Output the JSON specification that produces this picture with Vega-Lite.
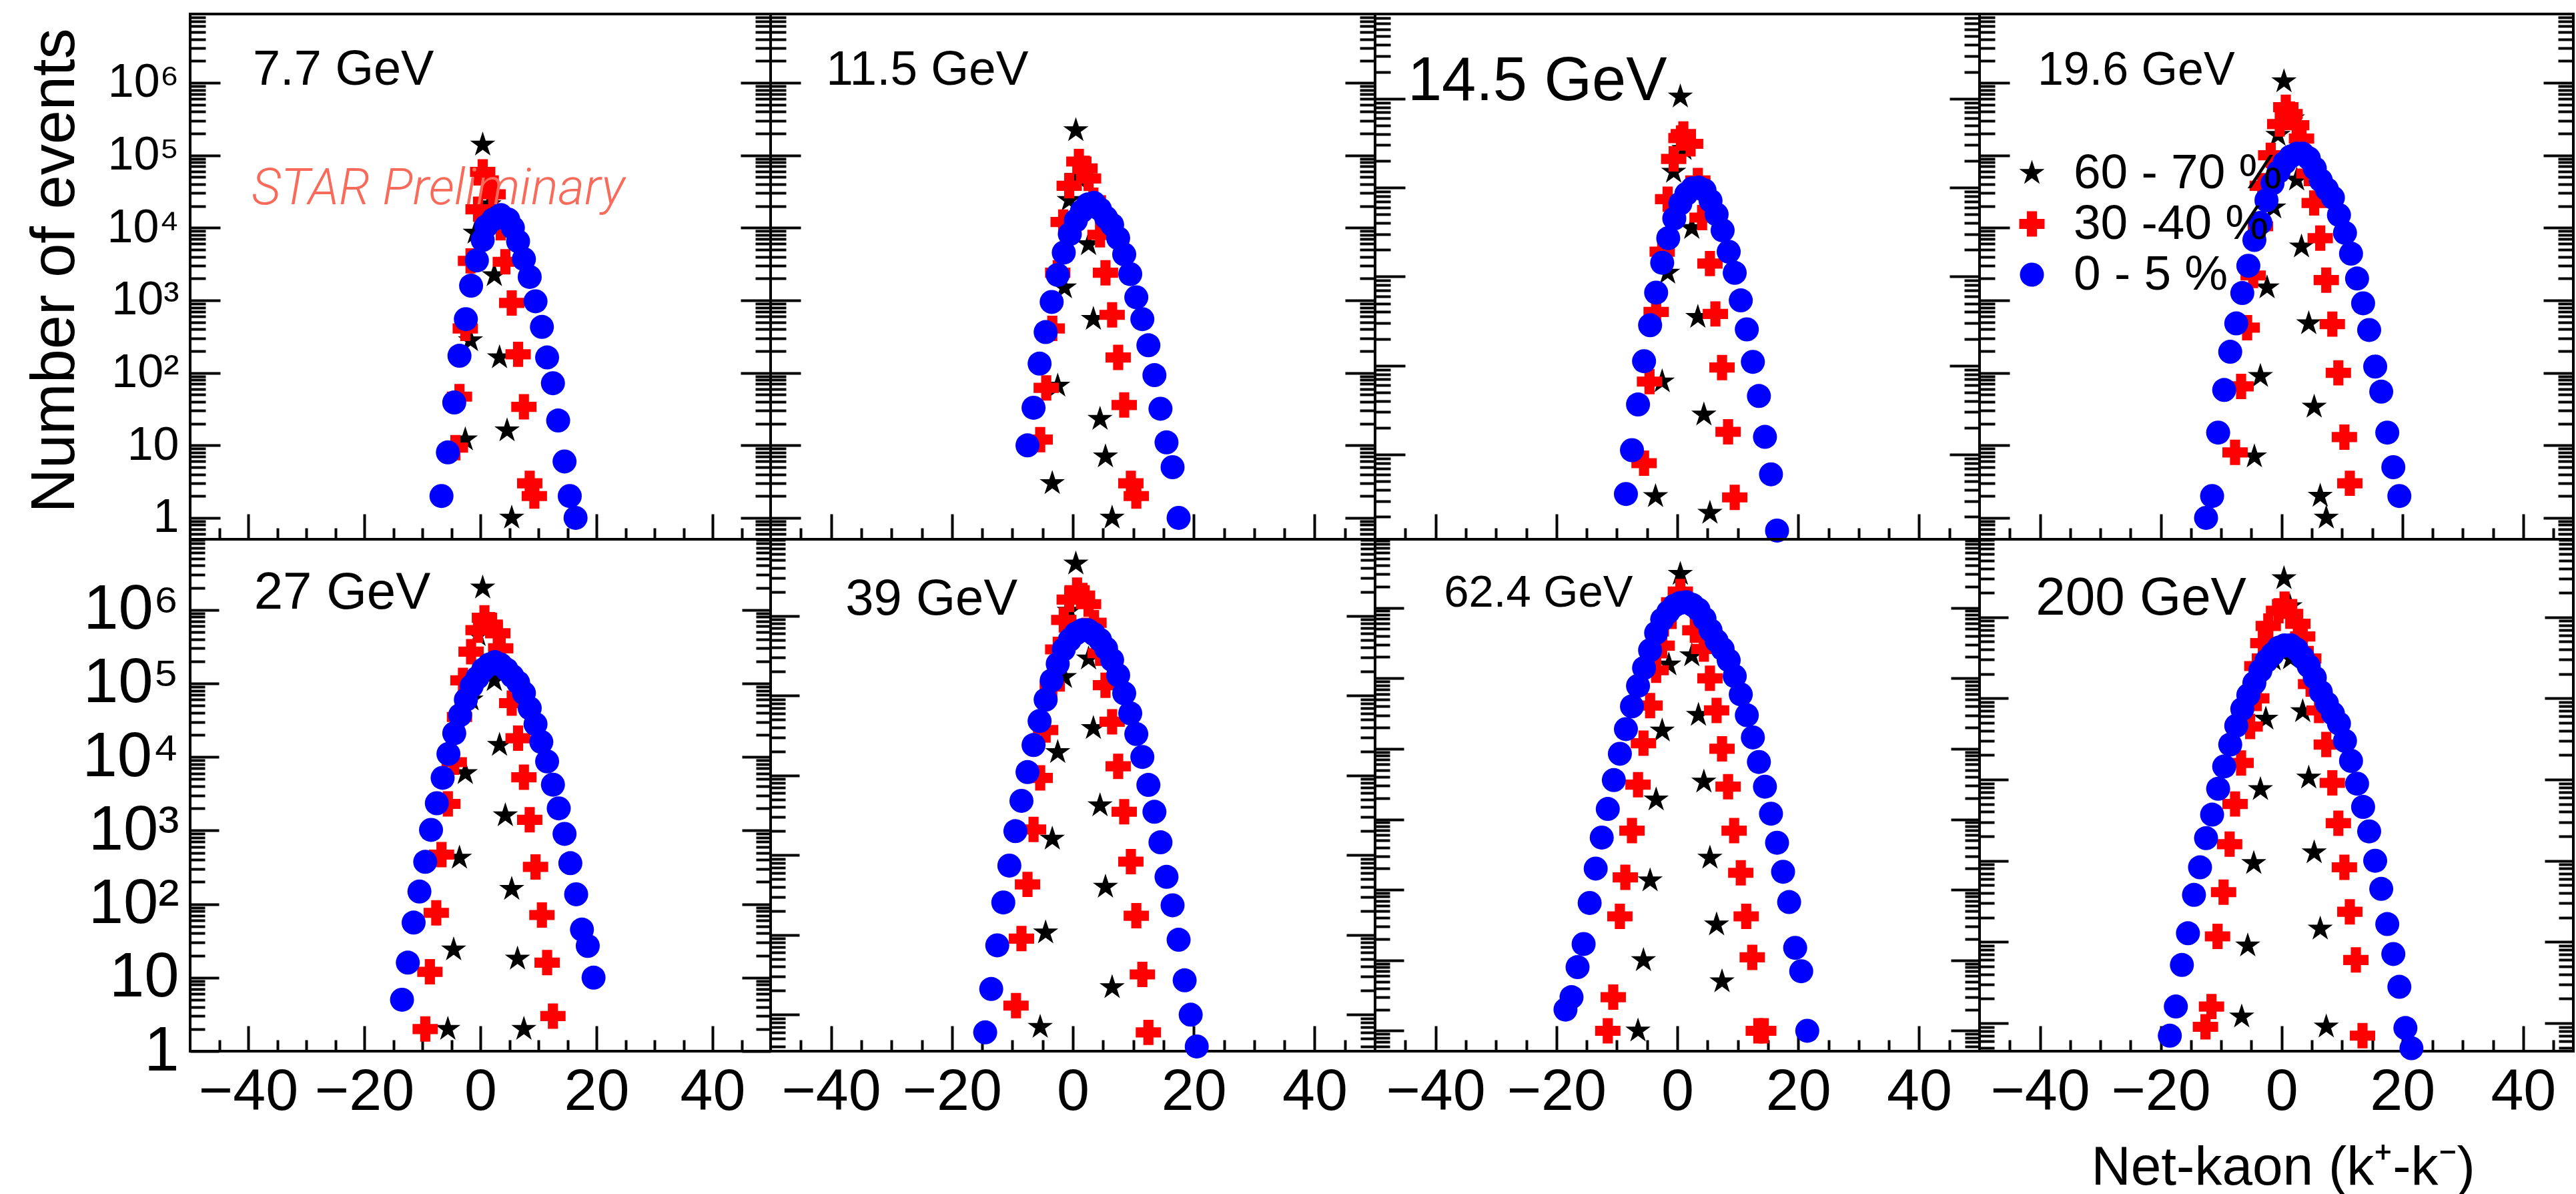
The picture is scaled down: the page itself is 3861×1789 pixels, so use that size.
{
"$schema": "https://vega.github.io/schema/vega-lite/v6.json",
"background": "white",
"padding": {"left": 33, "top": 19, "right": 0, "bottom": 0},
"columns": 4,
"spacing": 0,
"bounds": "flush",
"align": "each",
"resolve": {"scale": {"color": "independent", "shape": "independent", "size": "independent"}},
"config": {
  "view": {"stroke": "black", "strokeWidth": 4},
  "axis": {"grid": false, "domain": false, "tickColor": "black", "tickWidth": 4, "labelFont": "Liberation Sans", "labelColor": "black", "titleFont": "Liberation Sans", "titleColor": "black", "titleFontWeight": "normal", "labelOverlap": false, "labelBound": false, "labelFlush": false},
  "legend": {"padding": 0}
},
"datasets": {"pts": [
{"e":"7.7","c":"60 - 70 %","x":0.4,"y":140000},{"e":"7.7","c":"60 - 70 %","x":1.5,"y":21000},{"e":"7.7","c":"60 - 70 %","x":-0.9,"y":8500},{"e":"7.7","c":"60 - 70 %","x":2.4,"y":2200},{"e":"7.7","c":"60 - 70 %","x":-1.7,"y":280},{"e":"7.7","c":"60 - 70 %","x":3.3,"y":163},{"e":"7.7","c":"60 - 70 %","x":-2.6,"y":12},{"e":"7.7","c":"60 - 70 %","x":4.6,"y":16},{"e":"7.7","c":"60 - 70 %","x":5.4,"y":1},
{"e":"7.7","c":"30 -40 %","x":0.4,"y":59000},{"e":"7.7","c":"30 -40 %","x":1.0,"y":45000},{"e":"7.7","c":"30 -40 %","x":2.2,"y":29000},{"e":"7.7","c":"30 -40 %","x":-0.4,"y":18000},{"e":"7.7","c":"30 -40 %","x":3.5,"y":10000},{"e":"7.7","c":"30 -40 %","x":-1.7,"y":3500},{"e":"7.7","c":"30 -40 %","x":4.3,"y":3400},{"e":"7.7","c":"30 -40 %","x":5.4,"y":920},{"e":"7.7","c":"30 -40 %","x":-2.6,"y":410},{"e":"7.7","c":"30 -40 %","x":6.5,"y":180},{"e":"7.7","c":"30 -40 %","x":-3.6,"y":47},{"e":"7.7","c":"30 -40 %","x":7.5,"y":34},{"e":"7.7","c":"30 -40 %","x":-4.3,"y":9.3},{"e":"7.7","c":"30 -40 %","x":8.5,"y":3},{"e":"7.7","c":"30 -40 %","x":9.3,"y":2},
{"e":"7.7","c":"0 - 5 %","x":-6.7,"y":2},{"e":"7.7","c":"0 - 5 %","x":-5.6,"y":8},{"e":"7.7","c":"0 - 5 %","x":-4.5,"y":39},{"e":"7.7","c":"0 - 5 %","x":-3.6,"y":172},{"e":"7.7","c":"0 - 5 %","x":-2.5,"y":550},{"e":"7.7","c":"0 - 5 %","x":-1.6,"y":1590},{"e":"7.7","c":"0 - 5 %","x":-0.6,"y":3550},{"e":"7.7","c":"0 - 5 %","x":0.4,"y":6800},{"e":"7.7","c":"0 - 5 %","x":1.0,"y":10500},{"e":"7.7","c":"0 - 5 %","x":2.2,"y":13000},{"e":"7.7","c":"0 - 5 %","x":3.5,"y":15000},{"e":"7.7","c":"0 - 5 %","x":4.8,"y":13000},{"e":"7.7","c":"0 - 5 %","x":5.6,"y":10000},{"e":"7.7","c":"0 - 5 %","x":6.5,"y":6500},{"e":"7.7","c":"0 - 5 %","x":7.5,"y":3700},{"e":"7.7","c":"0 - 5 %","x":8.5,"y":2100},{"e":"7.7","c":"0 - 5 %","x":9.5,"y":970},{"e":"7.7","c":"0 - 5 %","x":10.6,"y":430},{"e":"7.7","c":"0 - 5 %","x":11.5,"y":163},{"e":"7.7","c":"0 - 5 %","x":12.5,"y":72},{"e":"7.7","c":"0 - 5 %","x":13.4,"y":22},{"e":"7.7","c":"0 - 5 %","x":14.5,"y":6},{"e":"7.7","c":"0 - 5 %","x":15.4,"y":2},{"e":"7.7","c":"0 - 5 %","x":16.4,"y":1},

{"e":"11.5","c":"60 - 70 %","x":0.5,"y":220000},{"e":"11.5","c":"60 - 70 %","x":0.7,"y":50000},{"e":"11.5","c":"60 - 70 %","x":-0.6,"y":24000},{"e":"11.5","c":"60 - 70 %","x":2.6,"y":5900},{"e":"11.5","c":"60 - 70 %","x":-1.4,"y":1500},{"e":"11.5","c":"60 - 70 %","x":3.4,"y":550},{"e":"11.5","c":"60 - 70 %","x":-2.5,"y":66},{"e":"11.5","c":"60 - 70 %","x":4.5,"y":23},{"e":"11.5","c":"60 - 70 %","x":5.4,"y":7},{"e":"11.5","c":"60 - 70 %","x":-3.4,"y":3},{"e":"11.5","c":"60 - 70 %","x":6.5,"y":1},
{"e":"11.5","c":"30 -40 %","x":1.0,"y":82000},{"e":"11.5","c":"30 -40 %","x":2.0,"y":66000},{"e":"11.5","c":"30 -40 %","x":2.6,"y":48000},{"e":"11.5","c":"30 -40 %","x":-0.6,"y":38000},{"e":"11.5","c":"30 -40 %","x":3.4,"y":24000},{"e":"11.5","c":"30 -40 %","x":-1.6,"y":12000},{"e":"11.5","c":"30 -40 %","x":4.5,"y":8000},{"e":"11.5","c":"30 -40 %","x":-2.5,"y":2400},{"e":"11.5","c":"30 -40 %","x":5.4,"y":2400},{"e":"11.5","c":"30 -40 %","x":6.5,"y":630},{"e":"11.5","c":"30 -40 %","x":-3.4,"y":410},{"e":"11.5","c":"30 -40 %","x":7.5,"y":163},{"e":"11.5","c":"30 -40 %","x":-4.4,"y":62},{"e":"11.5","c":"30 -40 %","x":8.5,"y":36},{"e":"11.5","c":"30 -40 %","x":-5.4,"y":12},{"e":"11.5","c":"30 -40 %","x":9.6,"y":3},{"e":"11.5","c":"30 -40 %","x":10.5,"y":2},
{"e":"11.5","c":"0 - 5 %","x":-7.5,"y":10},{"e":"11.5","c":"0 - 5 %","x":-6.5,"y":33},{"e":"11.5","c":"0 - 5 %","x":-5.5,"y":134},{"e":"11.5","c":"0 - 5 %","x":-4.5,"y":365},{"e":"11.5","c":"0 - 5 %","x":-3.5,"y":950},{"e":"11.5","c":"0 - 5 %","x":-2.5,"y":2240},{"e":"11.5","c":"0 - 5 %","x":-1.5,"y":4550},{"e":"11.5","c":"0 - 5 %","x":-0.5,"y":8200},{"e":"11.5","c":"0 - 5 %","x":0.5,"y":12600},{"e":"11.5","c":"0 - 5 %","x":1.5,"y":17000},{"e":"11.5","c":"0 - 5 %","x":2.5,"y":21000},{"e":"11.5","c":"0 - 5 %","x":3.5,"y":22000},{"e":"11.5","c":"0 - 5 %","x":4.5,"y":18000},{"e":"11.5","c":"0 - 5 %","x":5.5,"y":13800},{"e":"11.5","c":"0 - 5 %","x":6.5,"y":11000},{"e":"11.5","c":"0 - 5 %","x":7.5,"y":7200},{"e":"11.5","c":"0 - 5 %","x":8.5,"y":4300},{"e":"11.5","c":"0 - 5 %","x":9.5,"y":2300},{"e":"11.5","c":"0 - 5 %","x":10.5,"y":1100},{"e":"11.5","c":"0 - 5 %","x":11.5,"y":550},{"e":"11.5","c":"0 - 5 %","x":12.5,"y":240},{"e":"11.5","c":"0 - 5 %","x":13.5,"y":93},{"e":"11.5","c":"0 - 5 %","x":14.5,"y":32},{"e":"11.5","c":"0 - 5 %","x":15.5,"y":11},{"e":"11.5","c":"0 - 5 %","x":16.5,"y":5},{"e":"11.5","c":"0 - 5 %","x":17.5,"y":1},

{"e":"14.5","c":"60 - 70 %","x":0.5,"y":1050000},{"e":"14.5","c":"60 - 70 %","x":1.1,"y":270000},{"e":"14.5","c":"60 - 70 %","x":-0.6,"y":150000},{"e":"14.5","c":"60 - 70 %","x":2.4,"y":35000},{"e":"14.5","c":"60 - 70 %","x":-1.6,"y":11000},{"e":"14.5","c":"60 - 70 %","x":3.4,"y":3500},{"e":"14.5","c":"60 - 70 %","x":-2.5,"y":660},{"e":"14.5","c":"60 - 70 %","x":4.4,"y":280},{"e":"14.5","c":"60 - 70 %","x":-3.6,"y":34},{"e":"14.5","c":"60 - 70 %","x":5.4,"y":22},
{"e":"14.5","c":"30 -40 %","x":1.0,"y":400000},{"e":"14.5","c":"30 -40 %","x":0.6,"y":360000},{"e":"14.5","c":"30 -40 %","x":2.2,"y":310000},{"e":"14.5","c":"30 -40 %","x":-0.6,"y":210000},{"e":"14.5","c":"30 -40 %","x":3.4,"y":120000},{"e":"14.5","c":"30 -40 %","x":-1.6,"y":74000},{"e":"14.5","c":"30 -40 %","x":4.1,"y":46000},{"e":"14.5","c":"30 -40 %","x":-2.5,"y":19000},{"e":"14.5","c":"30 -40 %","x":5.4,"y":14000},{"e":"14.5","c":"30 -40 %","x":-3.5,"y":4000},{"e":"14.5","c":"30 -40 %","x":6.3,"y":3800},{"e":"14.5","c":"30 -40 %","x":-4.6,"y":660},{"e":"14.5","c":"30 -40 %","x":7.4,"y":950},{"e":"14.5","c":"30 -40 %","x":-5.5,"y":80},{"e":"14.5","c":"30 -40 %","x":8.4,"y":180},{"e":"14.5","c":"30 -40 %","x":9.5,"y":33},
{"e":"14.5","c":"0 - 5 %","x":-8.5,"y":36},{"e":"14.5","c":"0 - 5 %","x":-7.5,"y":112},{"e":"14.5","c":"0 - 5 %","x":-6.5,"y":365},{"e":"14.5","c":"0 - 5 %","x":-5.5,"y":1120},{"e":"14.5","c":"0 - 5 %","x":-4.5,"y":2840},{"e":"14.5","c":"0 - 5 %","x":-3.5,"y":6600},{"e":"14.5","c":"0 - 5 %","x":-2.5,"y":14300},{"e":"14.5","c":"0 - 5 %","x":-1.5,"y":27000},{"e":"14.5","c":"0 - 5 %","x":-0.5,"y":45000},{"e":"14.5","c":"0 - 5 %","x":0.5,"y":66000},{"e":"14.5","c":"0 - 5 %","x":1.5,"y":85000},{"e":"14.5","c":"0 - 5 %","x":2.5,"y":98000},{"e":"14.5","c":"0 - 5 %","x":3.5,"y":100000},{"e":"14.5","c":"0 - 5 %","x":4.5,"y":93000},{"e":"14.5","c":"0 - 5 %","x":5.5,"y":71000},{"e":"14.5","c":"0 - 5 %","x":6.5,"y":50000},{"e":"14.5","c":"0 - 5 %","x":7.5,"y":33000},{"e":"14.5","c":"0 - 5 %","x":8.5,"y":19000},{"e":"14.5","c":"0 - 5 %","x":9.5,"y":11000},{"e":"14.5","c":"0 - 5 %","x":10.5,"y":5400},{"e":"14.5","c":"0 - 5 %","x":11.5,"y":2550},{"e":"14.5","c":"0 - 5 %","x":12.5,"y":1100},{"e":"14.5","c":"0 - 5 %","x":13.5,"y":455},{"e":"14.5","c":"0 - 5 %","x":14.5,"y":158},{"e":"14.5","c":"0 - 5 %","x":15.5,"y":60},{"e":"14.5","c":"0 - 5 %","x":16.5,"y":14},

{"e":"19.6","c":"60 - 70 %","x":0.4,"y":1040000},{"e":"19.6","c":"60 - 70 %","x":-0.6,"y":190000},{"e":"19.6","c":"60 - 70 %","x":1.8,"y":320000},{"e":"19.6","c":"60 - 70 %","x":2.5,"y":46000},{"e":"19.6","c":"60 - 70 %","x":-1.3,"y":19000},{"e":"19.6","c":"60 - 70 %","x":3.3,"y":5500},{"e":"19.6","c":"60 - 70 %","x":-2.4,"y":1500},{"e":"19.6","c":"60 - 70 %","x":4.5,"y":480},{"e":"19.6","c":"60 - 70 %","x":-3.5,"y":90},{"e":"19.6","c":"60 - 70 %","x":5.4,"y":34},{"e":"19.6","c":"60 - 70 %","x":-4.5,"y":7},{"e":"19.6","c":"60 - 70 %","x":6.4,"y":2},{"e":"19.6","c":"60 - 70 %","x":7.4,"y":1},
{"e":"19.6","c":"30 -40 %","x":0.7,"y":460000},{"e":"19.6","c":"30 -40 %","x":1.4,"y":370000},{"e":"19.6","c":"30 -40 %","x":-0.3,"y":270000},{"e":"19.6","c":"30 -40 %","x":2.5,"y":260000},{"e":"19.6","c":"30 -40 %","x":3.3,"y":170000},{"e":"19.6","c":"30 -40 %","x":-1.8,"y":100000},{"e":"19.6","c":"30 -40 %","x":4.5,"y":56000},{"e":"19.6","c":"30 -40 %","x":-3.2,"y":38000},{"e":"19.6","c":"30 -40 %","x":5.4,"y":22000},{"e":"19.6","c":"30 -40 %","x":-3.5,"y":10500},{"e":"19.6","c":"30 -40 %","x":6.4,"y":7200},{"e":"19.6","c":"30 -40 %","x":-4.7,"y":2200},{"e":"19.6","c":"30 -40 %","x":7.4,"y":1900},{"e":"19.6","c":"30 -40 %","x":-5.7,"y":420},{"e":"19.6","c":"30 -40 %","x":8.4,"y":470},{"e":"19.6","c":"30 -40 %","x":-6.7,"y":65},{"e":"19.6","c":"30 -40 %","x":9.4,"y":100},{"e":"19.6","c":"30 -40 %","x":-7.7,"y":8},{"e":"19.6","c":"30 -40 %","x":10.4,"y":13},{"e":"19.6","c":"30 -40 %","x":11.3,"y":3},
{"e":"19.6","c":"0 - 5 %","x":-12.5,"y":1},{"e":"19.6","c":"0 - 5 %","x":-11.5,"y":2},{"e":"19.6","c":"0 - 5 %","x":-10.5,"y":15},{"e":"19.6","c":"0 - 5 %","x":-9.5,"y":58},{"e":"19.6","c":"0 - 5 %","x":-8.5,"y":195},{"e":"19.6","c":"0 - 5 %","x":-7.5,"y":480},{"e":"19.6","c":"0 - 5 %","x":-6.5,"y":1260},{"e":"19.6","c":"0 - 5 %","x":-5.5,"y":3000},{"e":"19.6","c":"0 - 5 %","x":-4.5,"y":6800},{"e":"19.6","c":"0 - 5 %","x":-3.5,"y":11700},{"e":"19.6","c":"0 - 5 %","x":-2.5,"y":24000},{"e":"19.6","c":"0 - 5 %","x":-1.5,"y":41000},{"e":"19.6","c":"0 - 5 %","x":-0.5,"y":59000},{"e":"19.6","c":"0 - 5 %","x":0.5,"y":79000},{"e":"19.6","c":"0 - 5 %","x":1.5,"y":96000},{"e":"19.6","c":"0 - 5 %","x":2.5,"y":105000},{"e":"19.6","c":"0 - 5 %","x":3.5,"y":105000},{"e":"19.6","c":"0 - 5 %","x":4.5,"y":91000},{"e":"19.6","c":"0 - 5 %","x":5.5,"y":66000},{"e":"19.6","c":"0 - 5 %","x":6.5,"y":45000},{"e":"19.6","c":"0 - 5 %","x":7.5,"y":34000},{"e":"19.6","c":"0 - 5 %","x":8.5,"y":26000},{"e":"19.6","c":"0 - 5 %","x":9.5,"y":15000},{"e":"19.6","c":"0 - 5 %","x":10.5,"y":8500},{"e":"19.6","c":"0 - 5 %","x":11.5,"y":4400},{"e":"19.6","c":"0 - 5 %","x":12.5,"y":2000},{"e":"19.6","c":"0 - 5 %","x":13.5,"y":910},{"e":"19.6","c":"0 - 5 %","x":14.5,"y":390},{"e":"19.6","c":"0 - 5 %","x":15.5,"y":122},{"e":"19.6","c":"0 - 5 %","x":16.5,"y":55},{"e":"19.6","c":"0 - 5 %","x":17.5,"y":15},{"e":"19.6","c":"0 - 5 %","x":18.5,"y":5},{"e":"19.6","c":"0 - 5 %","x":19.5,"y":2},

{"e":"27","c":"60 - 70 %","x":0.4,"y":2000000},{"e":"27","c":"60 - 70 %","x":-0.4,"y":450000},{"e":"27","c":"60 - 70 %","x":2.4,"y":110000},{"e":"27","c":"60 - 70 %","x":-1.6,"y":60000},{"e":"27","c":"60 - 70 %","x":3.3,"y":14500},{"e":"27","c":"60 - 70 %","x":-2.6,"y":6000},{"e":"27","c":"60 - 70 %","x":4.3,"y":1600},{"e":"27","c":"60 - 70 %","x":-3.6,"y":425},{"e":"27","c":"60 - 70 %","x":5.4,"y":160},{"e":"27","c":"60 - 70 %","x":-4.6,"y":24},{"e":"27","c":"60 - 70 %","x":6.4,"y":18},{"e":"27","c":"60 - 70 %","x":-5.6,"y":2},{"e":"27","c":"60 - 70 %","x":7.5,"y":2},
{"e":"27","c":"30 -40 %","x":0.7,"y":780000},{"e":"27","c":"30 -40 %","x":1.7,"y":630000},{"e":"27","c":"30 -40 %","x":-0.4,"y":530000},{"e":"27","c":"30 -40 %","x":3.0,"y":480000},{"e":"27","c":"30 -40 %","x":-1.6,"y":270000},{"e":"27","c":"30 -40 %","x":3.5,"y":300000},{"e":"27","c":"30 -40 %","x":-3.0,"y":110000},{"e":"27","c":"30 -40 %","x":5.4,"y":54000},{"e":"27","c":"30 -40 %","x":-3.6,"y":35000},{"e":"27","c":"30 -40 %","x":6.5,"y":18000},{"e":"27","c":"30 -40 %","x":-4.5,"y":8500},{"e":"27","c":"30 -40 %","x":7.5,"y":5300},{"e":"27","c":"30 -40 %","x":-5.6,"y":2300},{"e":"27","c":"30 -40 %","x":8.5,"y":1400},{"e":"27","c":"30 -40 %","x":-6.7,"y":470},{"e":"27","c":"30 -40 %","x":9.5,"y":320},{"e":"27","c":"30 -40 %","x":-7.6,"y":76},{"e":"27","c":"30 -40 %","x":10.6,"y":71},{"e":"27","c":"30 -40 %","x":-8.7,"y":12},{"e":"27","c":"30 -40 %","x":11.5,"y":16},{"e":"27","c":"30 -40 %","x":-9.5,"y":2},{"e":"27","c":"30 -40 %","x":12.5,"y":3},
{"e":"27","c":"0 - 5 %","x":-13.5,"y":5},{"e":"27","c":"0 - 5 %","x":-12.5,"y":16},{"e":"27","c":"0 - 5 %","x":-11.5,"y":56},{"e":"27","c":"0 - 5 %","x":-10.5,"y":148},{"e":"27","c":"0 - 5 %","x":-9.5,"y":375},{"e":"27","c":"0 - 5 %","x":-8.5,"y":1020},{"e":"27","c":"0 - 5 %","x":-7.5,"y":2350},{"e":"27","c":"0 - 5 %","x":-6.5,"y":5200},{"e":"27","c":"0 - 5 %","x":-5.5,"y":11000},{"e":"27","c":"0 - 5 %","x":-4.5,"y":21000},{"e":"27","c":"0 - 5 %","x":-3.5,"y":37000},{"e":"27","c":"0 - 5 %","x":-2.5,"y":60000},{"e":"27","c":"0 - 5 %","x":-1.5,"y":92000},{"e":"27","c":"0 - 5 %","x":-0.5,"y":120000},{"e":"27","c":"0 - 5 %","x":0.5,"y":155000},{"e":"27","c":"0 - 5 %","x":1.5,"y":180000},{"e":"27","c":"0 - 5 %","x":2.5,"y":195000},{"e":"27","c":"0 - 5 %","x":3.5,"y":180000},{"e":"27","c":"0 - 5 %","x":4.5,"y":155000},{"e":"27","c":"0 - 5 %","x":5.5,"y":126000},{"e":"27","c":"0 - 5 %","x":6.5,"y":103000},{"e":"27","c":"0 - 5 %","x":7.5,"y":74000},{"e":"27","c":"0 - 5 %","x":8.5,"y":46000},{"e":"27","c":"0 - 5 %","x":9.5,"y":28000},{"e":"27","c":"0 - 5 %","x":10.5,"y":16000},{"e":"27","c":"0 - 5 %","x":11.5,"y":8700},{"e":"27","c":"0 - 5 %","x":12.5,"y":4200},{"e":"27","c":"0 - 5 %","x":13.5,"y":2000},{"e":"27","c":"0 - 5 %","x":14.5,"y":900},{"e":"27","c":"0 - 5 %","x":15.5,"y":360},{"e":"27","c":"0 - 5 %","x":16.5,"y":136},{"e":"27","c":"0 - 5 %","x":17.5,"y":45},{"e":"27","c":"0 - 5 %","x":18.5,"y":27},{"e":"27","c":"0 - 5 %","x":19.5,"y":10},

{"e":"39","c":"60 - 70 %","x":0.5,"y":4500000},{"e":"39","c":"60 - 70 %","x":-0.6,"y":1150000},{"e":"39","c":"60 - 70 %","x":2.6,"y":290000},{"e":"39","c":"60 - 70 %","x":-1.4,"y":170000},{"e":"39","c":"60 - 70 %","x":3.4,"y":39000},{"e":"39","c":"60 - 70 %","x":-2.5,"y":19500},{"e":"39","c":"60 - 70 %","x":4.5,"y":4200},{"e":"39","c":"60 - 70 %","x":-3.4,"y":1600},{"e":"39","c":"60 - 70 %","x":5.4,"y":400},{"e":"39","c":"60 - 70 %","x":-4.5,"y":107},{"e":"39","c":"60 - 70 %","x":6.5,"y":22},{"e":"39","c":"60 - 70 %","x":-5.4,"y":7},
{"e":"39","c":"30 -40 %","x":0.7,"y":2100000},{"e":"39","c":"30 -40 %","x":1.6,"y":1800000},{"e":"39","c":"30 -40 %","x":-0.6,"y":1600000},{"e":"39","c":"30 -40 %","x":2.6,"y":1400000},{"e":"39","c":"30 -40 %","x":-1.5,"y":890000},{"e":"39","c":"30 -40 %","x":3.5,"y":820000},{"e":"39","c":"30 -40 %","x":-2.5,"y":380000},{"e":"39","c":"30 -40 %","x":4.5,"y":340000},{"e":"39","c":"30 -40 %","x":-3.4,"y":130000},{"e":"39","c":"30 -40 %","x":5.4,"y":135000},{"e":"39","c":"30 -40 %","x":-4.5,"y":37000},{"e":"39","c":"30 -40 %","x":6.5,"y":47000},{"e":"39","c":"30 -40 %","x":-5.4,"y":9300},{"e":"39","c":"30 -40 %","x":7.5,"y":13000},{"e":"39","c":"30 -40 %","x":-6.5,"y":2100},{"e":"39","c":"30 -40 %","x":8.5,"y":3500},{"e":"39","c":"30 -40 %","x":-7.5,"y":430},{"e":"39","c":"30 -40 %","x":9.6,"y":830},{"e":"39","c":"30 -40 %","x":-8.5,"y":90},{"e":"39","c":"30 -40 %","x":10.5,"y":174},{"e":"39","c":"30 -40 %","x":-9.4,"y":13},{"e":"39","c":"30 -40 %","x":11.5,"y":32},{"e":"39","c":"30 -40 %","x":12.5,"y":6},
{"e":"39","c":"0 - 5 %","x":-14.5,"y":6},{"e":"39","c":"0 - 5 %","x":-13.5,"y":21},{"e":"39","c":"0 - 5 %","x":-12.5,"y":74},{"e":"39","c":"0 - 5 %","x":-11.5,"y":255},{"e":"39","c":"0 - 5 %","x":-10.5,"y":740},{"e":"39","c":"0 - 5 %","x":-9.5,"y":2000},{"e":"39","c":"0 - 5 %","x":-8.5,"y":4800},{"e":"39","c":"0 - 5 %","x":-7.5,"y":11000},{"e":"39","c":"0 - 5 %","x":-6.5,"y":24000},{"e":"39","c":"0 - 5 %","x":-5.5,"y":48000},{"e":"39","c":"0 - 5 %","x":-4.5,"y":89000},{"e":"39","c":"0 - 5 %","x":-3.5,"y":155000},{"e":"39","c":"0 - 5 %","x":-2.5,"y":250000},{"e":"39","c":"0 - 5 %","x":-1.5,"y":380000},{"e":"39","c":"0 - 5 %","x":-0.5,"y":500000},{"e":"39","c":"0 - 5 %","x":0.5,"y":600000},{"e":"39","c":"0 - 5 %","x":1.5,"y":660000},{"e":"39","c":"0 - 5 %","x":2.5,"y":660000},{"e":"39","c":"0 - 5 %","x":3.5,"y":590000},{"e":"39","c":"0 - 5 %","x":4.5,"y":500000},{"e":"39","c":"0 - 5 %","x":5.5,"y":390000},{"e":"39","c":"0 - 5 %","x":6.5,"y":280000},{"e":"39","c":"0 - 5 %","x":7.5,"y":180000},{"e":"39","c":"0 - 5 %","x":8.5,"y":107000},{"e":"39","c":"0 - 5 %","x":9.5,"y":60000},{"e":"39","c":"0 - 5 %","x":10.5,"y":33000},{"e":"39","c":"0 - 5 %","x":11.5,"y":17000},{"e":"39","c":"0 - 5 %","x":12.5,"y":7600},{"e":"39","c":"0 - 5 %","x":13.5,"y":3500},{"e":"39","c":"0 - 5 %","x":14.5,"y":1450},{"e":"39","c":"0 - 5 %","x":15.5,"y":535},{"e":"39","c":"0 - 5 %","x":16.5,"y":235},{"e":"39","c":"0 - 5 %","x":17.5,"y":87},{"e":"39","c":"0 - 5 %","x":18.5,"y":27},{"e":"39","c":"0 - 5 %","x":19.5,"y":10},{"e":"39","c":"0 - 5 %","x":20.5,"y":4},

{"e":"62.4","c":"60 - 70 %","x":0.5,"y":3000000},{"e":"62.4","c":"60 - 70 %","x":-1.4,"y":156000},{"e":"62.4","c":"60 - 70 %","x":2.4,"y":210000},{"e":"62.4","c":"60 - 70 %","x":-2.5,"y":18000},{"e":"62.4","c":"60 - 70 %","x":3.5,"y":30000},{"e":"62.4","c":"60 - 70 %","x":-3.5,"y":1900},{"e":"62.4","c":"60 - 70 %","x":4.4,"y":3400},{"e":"62.4","c":"60 - 70 %","x":-4.5,"y":135},{"e":"62.4","c":"60 - 70 %","x":5.4,"y":284},{"e":"62.4","c":"60 - 70 %","x":-5.6,"y":10},{"e":"62.4","c":"60 - 70 %","x":6.5,"y":32},{"e":"62.4","c":"60 - 70 %","x":7.4,"y":5},{"e":"62.4","c":"60 - 70 %","x":-6.5,"y":1},
{"e":"62.4","c":"30 -40 %","x":0.5,"y":1700000},{"e":"62.4","c":"30 -40 %","x":-0.6,"y":1200000},{"e":"62.4","c":"30 -40 %","x":1.5,"y":1300000},{"e":"62.4","c":"30 -40 %","x":-2.2,"y":590000},{"e":"62.4","c":"30 -40 %","x":2.9,"y":480000},{"e":"62.4","c":"30 -40 %","x":-2.5,"y":290000},{"e":"62.4","c":"30 -40 %","x":4.4,"y":260000},{"e":"62.4","c":"30 -40 %","x":-3.5,"y":130000},{"e":"62.4","c":"30 -40 %","x":5.4,"y":100000},{"e":"62.4","c":"30 -40 %","x":-4.5,"y":41000},{"e":"62.4","c":"30 -40 %","x":6.5,"y":35000},{"e":"62.4","c":"30 -40 %","x":-5.6,"y":12000},{"e":"62.4","c":"30 -40 %","x":7.4,"y":10000},{"e":"62.4","c":"30 -40 %","x":-6.5,"y":3100},{"e":"62.4","c":"30 -40 %","x":8.4,"y":2900},{"e":"62.4","c":"30 -40 %","x":-7.5,"y":690},{"e":"62.4","c":"30 -40 %","x":9.4,"y":690},{"e":"62.4","c":"30 -40 %","x":-8.6,"y":150},{"e":"62.4","c":"30 -40 %","x":10.5,"y":174},{"e":"62.4","c":"30 -40 %","x":-9.5,"y":42},{"e":"62.4","c":"30 -40 %","x":11.4,"y":42},{"e":"62.4","c":"30 -40 %","x":12.4,"y":11},{"e":"62.4","c":"30 -40 %","x":-10.6,"y":3},{"e":"62.4","c":"30 -40 %","x":-11.5,"y":1},{"e":"62.4","c":"30 -40 %","x":13.4,"y":1},{"e":"62.4","c":"30 -40 %","x":14.3,"y":1},
{"e":"62.4","c":"0 - 5 %","x":-18.5,"y":2},{"e":"62.4","c":"0 - 5 %","x":-17.5,"y":3},{"e":"62.4","c":"0 - 5 %","x":-16.5,"y":8},{"e":"62.4","c":"0 - 5 %","x":-15.5,"y":17},{"e":"62.4","c":"0 - 5 %","x":-14.5,"y":65},{"e":"62.4","c":"0 - 5 %","x":-13.5,"y":200},{"e":"62.4","c":"0 - 5 %","x":-12.5,"y":550},{"e":"62.4","c":"0 - 5 %","x":-11.5,"y":1400},{"e":"62.4","c":"0 - 5 %","x":-10.5,"y":3600},{"e":"62.4","c":"0 - 5 %","x":-9.5,"y":8500},{"e":"62.4","c":"0 - 5 %","x":-8.5,"y":19000},{"e":"62.4","c":"0 - 5 %","x":-7.5,"y":40000},{"e":"62.4","c":"0 - 5 %","x":-6.5,"y":78000},{"e":"62.4","c":"0 - 5 %","x":-5.5,"y":140000},{"e":"62.4","c":"0 - 5 %","x":-4.5,"y":250000},{"e":"62.4","c":"0 - 5 %","x":-3.5,"y":440000},{"e":"62.4","c":"0 - 5 %","x":-2.5,"y":680000},{"e":"62.4","c":"0 - 5 %","x":-1.5,"y":870000},{"e":"62.4","c":"0 - 5 %","x":-0.5,"y":1070000},{"e":"62.4","c":"0 - 5 %","x":0.5,"y":1170000},{"e":"62.4","c":"0 - 5 %","x":1.5,"y":1200000},{"e":"62.4","c":"0 - 5 %","x":2.5,"y":1100000},{"e":"62.4","c":"0 - 5 %","x":3.5,"y":940000},{"e":"62.4","c":"0 - 5 %","x":4.5,"y":700000},{"e":"62.4","c":"0 - 5 %","x":5.5,"y":480000},{"e":"62.4","c":"0 - 5 %","x":6.5,"y":340000},{"e":"62.4","c":"0 - 5 %","x":7.5,"y":260000},{"e":"62.4","c":"0 - 5 %","x":8.5,"y":180000},{"e":"62.4","c":"0 - 5 %","x":9.5,"y":107000},{"e":"62.4","c":"0 - 5 %","x":10.5,"y":59000},{"e":"62.4","c":"0 - 5 %","x":11.5,"y":30000},{"e":"62.4","c":"0 - 5 %","x":12.5,"y":14500},{"e":"62.4","c":"0 - 5 %","x":13.5,"y":6500},{"e":"62.4","c":"0 - 5 %","x":14.5,"y":2900},{"e":"62.4","c":"0 - 5 %","x":15.5,"y":1200},{"e":"62.4","c":"0 - 5 %","x":16.5,"y":465},{"e":"62.4","c":"0 - 5 %","x":17.5,"y":180},{"e":"62.4","c":"0 - 5 %","x":18.5,"y":67},{"e":"62.4","c":"0 - 5 %","x":19.5,"y":15},{"e":"62.4","c":"0 - 5 %","x":20.5,"y":7},{"e":"62.4","c":"0 - 5 %","x":21.5,"y":1},

{"e":"200","c":"60 - 70 %","x":0.4,"y":3000000},{"e":"200","c":"60 - 70 %","x":1.4,"y":1360000},{"e":"200","c":"60 - 70 %","x":-1.4,"y":300000},{"e":"200","c":"60 - 70 %","x":1.5,"y":310000},{"e":"200","c":"60 - 70 %","x":-2.6,"y":56000},{"e":"200","c":"60 - 70 %","x":3.5,"y":69000},{"e":"200","c":"60 - 70 %","x":-3.5,"y":7600},{"e":"200","c":"60 - 70 %","x":4.5,"y":10500},{"e":"200","c":"60 - 70 %","x":-4.6,"y":930},{"e":"200","c":"60 - 70 %","x":5.4,"y":1260},{"e":"200","c":"60 - 70 %","x":-5.6,"y":90},{"e":"200","c":"60 - 70 %","x":6.4,"y":145},{"e":"200","c":"60 - 70 %","x":-6.6,"y":12},{"e":"200","c":"60 - 70 %","x":7.4,"y":9},
{"e":"200","c":"30 -40 %","x":0.5,"y":1450000},{"e":"200","c":"30 -40 %","x":-0.5,"y":1200000},{"e":"200","c":"30 -40 %","x":1.5,"y":1100000},{"e":"200","c":"30 -40 %","x":-2.2,"y":780000},{"e":"200","c":"30 -40 %","x":2.7,"y":830000},{"e":"200","c":"30 -40 %","x":-3.1,"y":480000},{"e":"200","c":"30 -40 %","x":3.5,"y":580000},{"e":"200","c":"30 -40 %","x":-4.1,"y":250000},{"e":"200","c":"30 -40 %","x":4.5,"y":310000},{"e":"200","c":"30 -40 %","x":4.8,"y":150000},{"e":"200","c":"30 -40 %","x":-4.1,"y":100000},{"e":"200","c":"30 -40 %","x":6.2,"y":71000},{"e":"200","c":"30 -40 %","x":-5.2,"y":45000},{"e":"200","c":"30 -40 %","x":7.4,"y":27000},{"e":"200","c":"30 -40 %","x":-6.7,"y":16000},{"e":"200","c":"30 -40 %","x":8.4,"y":9100},{"e":"200","c":"30 -40 %","x":-7.7,"y":5000},{"e":"200","c":"30 -40 %","x":9.4,"y":2900},{"e":"200","c":"30 -40 %","x":-8.6,"y":1600},{"e":"200","c":"30 -40 %","x":10.4,"y":830},{"e":"200","c":"30 -40 %","x":-9.6,"y":410},{"e":"200","c":"30 -40 %","x":11.3,"y":235},{"e":"200","c":"30 -40 %","x":-10.6,"y":117},{"e":"200","c":"30 -40 %","x":12.3,"y":60},{"e":"200","c":"30 -40 %","x":-11.6,"y":16},{"e":"200","c":"30 -40 %","x":-12.6,"y":9},{"e":"200","c":"30 -40 %","x":13.4,"y":7},
{"e":"200","c":"0 - 5 %","x":-18.5,"y":7},{"e":"200","c":"0 - 5 %","x":-17.5,"y":16},{"e":"200","c":"0 - 5 %","x":-16.5,"y":52},{"e":"200","c":"0 - 5 %","x":-15.5,"y":128},{"e":"200","c":"0 - 5 %","x":-14.5,"y":380},{"e":"200","c":"0 - 5 %","x":-13.5,"y":830},{"e":"200","c":"0 - 5 %","x":-12.5,"y":1900},{"e":"200","c":"0 - 5 %","x":-11.5,"y":3700},{"e":"200","c":"0 - 5 %","x":-10.5,"y":7700},{"e":"200","c":"0 - 5 %","x":-9.5,"y":14500},{"e":"200","c":"0 - 5 %","x":-8.5,"y":27000},{"e":"200","c":"0 - 5 %","x":-7.5,"y":46000},{"e":"200","c":"0 - 5 %","x":-6.5,"y":74000},{"e":"200","c":"0 - 5 %","x":-5.5,"y":110000},{"e":"200","c":"0 - 5 %","x":-4.5,"y":155000},{"e":"200","c":"0 - 5 %","x":-3.5,"y":220000},{"e":"200","c":"0 - 5 %","x":-2.5,"y":290000},{"e":"200","c":"0 - 5 %","x":-1.5,"y":350000},{"e":"200","c":"0 - 5 %","x":-0.5,"y":420000},{"e":"200","c":"0 - 5 %","x":0.5,"y":450000},{"e":"200","c":"0 - 5 %","x":1.5,"y":450000},{"e":"200","c":"0 - 5 %","x":2.5,"y":400000},{"e":"200","c":"0 - 5 %","x":3.5,"y":320000},{"e":"200","c":"0 - 5 %","x":4.5,"y":250000},{"e":"200","c":"0 - 5 %","x":5.5,"y":180000},{"e":"200","c":"0 - 5 %","x":6.5,"y":120000},{"e":"200","c":"0 - 5 %","x":7.5,"y":87000},{"e":"200","c":"0 - 5 %","x":8.5,"y":65000},{"e":"200","c":"0 - 5 %","x":9.5,"y":49000},{"e":"200","c":"0 - 5 %","x":10.5,"y":30000},{"e":"200","c":"0 - 5 %","x":11.5,"y":17000},{"e":"200","c":"0 - 5 %","x":12.5,"y":8900},{"e":"200","c":"0 - 5 %","x":13.5,"y":4600},{"e":"200","c":"0 - 5 %","x":14.5,"y":2300},{"e":"200","c":"0 - 5 %","x":15.5,"y":1000},{"e":"200","c":"0 - 5 %","x":16.5,"y":450},{"e":"200","c":"0 - 5 %","x":17.5,"y":166},{"e":"200","c":"0 - 5 %","x":18.5,"y":71},{"e":"200","c":"0 - 5 %","x":19.5,"y":28},{"e":"200","c":"0 - 5 %","x":20.5,"y":8.7},{"e":"200","c":"0 - 5 %","x":21.5,"y":4.9}
]},
"concat": [
{"width": 870, "height": 787, "data": {"name": "pts"}, "transform": [{"filter": "datum.e == '7.7'"}], "resolve": {"axis": {"x": "independent", "y": "independent"}},
 "layer": [
  {"mark": {"type": "point", "filled": true, "opacity": 1, "strokeWidth": 0},
   "encoding": {
    "x": {"field": "x", "type": "quantitative", "scale": {"domain": [-50, 50], "nice": false, "zero": false}, "axis": {"orient": "bottom", "values": [-45,-40,-35,-30,-25,-20,-15,-10,-5,0,5,10,15,20,25,30,35,40,45], "labels": false, "title": null, "tickSize": {"condition": {"test": "datum.value % 20 == 0", "value": -38}, "value": -17}}},
    "y": {"field": "y", "type": "quantitative", "scale": {"type": "log", "domain": [0.507, 8870000], "nice": false}, "axis": {"orient": "left", "values": [0.6,0.7,0.8,0.9,1,2,3,4,5,6,7,8,9,10,20,30,40,50,60,70,80,90,100,200,300,400,500,600,700,800,900,1000,2000,3000,4000,5000,6000,7000,8000,9000,10000,20000,30000,40000,50000,60000,70000,80000,90000,100000,200000,300000,400000,500000,600000,700000,800000,900000,1000000,2000000,3000000,4000000,5000000,6000000,7000000,8000000], "tickSize": {"condition": {"test": "abs(log(datum.value)/LN10 - round(log(datum.value)/LN10)) < 0.001", "value": -45}, "value": -23}, "labelFontSize": {"condition": {"test": "abs(log(datum.value)/LN10 - round(log(datum.value)/LN10)) < 0.001", "value": 70}, "value": 0}, "labelPadding": 62, "labelExpr": "datum.value == 1 ? '1' : datum.value == 10 ? '10' : datum.value == 100 ? '10²' : datum.value == 1000 ? '10³' : datum.value == 10000 ? '10⁴' : datum.value == 100000 ? '10⁵' : datum.value == 1000000 ? '10⁶' : ''", "title": "Number of events", "titleFontSize": 92, "titleX": -175, "titleY": 384, "titleAngle": 270, "titleAlign": "center", "titleBaseline": "alphabetic"}},
    "color": {"field": "c", "type": "nominal", "scale": {"domain": ["60 - 70 %", "30 -40 %", "0 - 5 %"], "range": ["#000000", "#ff0000", "#0000ff"]}, "legend": null},
    "shape": {"field": "c", "type": "nominal", "scale": {"domain": ["60 - 70 %", "30 -40 %", "0 - 5 %"], "range": ["M0,-1L0.2245,-0.309L0.951,-0.309L0.363,0.118L0.588,0.809L0,0.382L-0.588,0.809L-0.363,0.118L-0.951,-0.309L-0.2245,-0.309Z", "cross", "circle"]}, "legend": null},
    "size": {"field": "c", "type": "nominal", "scale": {"domain": ["60 - 70 %", "30 -40 %", "0 - 5 %"], "range": [1584, 1296, 810]}, "legend": null}
   }},
  {"data": {"values": [{}]}, "mark": {"type": "text", "text": "7.7 GeV", "fontSize": 74, "font": "Liberation Sans", "color": "black", "align": "left", "baseline": "alphabetic"},
   "encoding": {"x": {"datum": -39.2, "type": "quantitative", "axis": null},
    "y": {"datum": 946000, "type": "quantitative", "axis": {"orient": "right", "values": [0.6,0.7,0.8,0.9,1,2,3,4,5,6,7,8,9,10,20,30,40,50,60,70,80,90,100,200,300,400,500,600,700,800,900,1000,2000,3000,4000,5000,6000,7000,8000,9000,10000,20000,30000,40000,50000,60000,70000,80000,90000,100000,200000,300000,400000,500000,600000,700000,800000,900000,1000000,2000000,3000000,4000000,5000000,6000000,7000000,8000000], "tickSize": {"condition": {"test": "abs(log(datum.value)/LN10 - round(log(datum.value)/LN10)) < 0.001", "value": -45}, "value": -23}, "labels": false, "title": null}}}},
  {"data": {"values": [{}]}, "mark": {"type": "text", "text": "STAR Preliminary", "fontSize": 76, "font": "Roboto", "fontWeight": 300, "fontStyle": "italic", "color": "#F86A5A", "align": "left", "baseline": "alphabetic"},
   "encoding": {"x": {"datum": -39.4, "type": "quantitative", "axis": null}, "y": {"datum": 21200, "type": "quantitative", "axis": null}}}
 ]},
{"width": 906, "height": 787, "data": {"name": "pts"}, "transform": [{"filter": "datum.e == '11.5'"}], "resolve": {"axis": {"x": "independent", "y": "independent"}},
 "layer": [
  {"mark": {"type": "point", "filled": true, "opacity": 1, "strokeWidth": 0},
   "encoding": {
    "x": {"field": "x", "type": "quantitative", "scale": {"domain": [-50, 50], "nice": false, "zero": false}, "axis": {"orient": "bottom", "values": [-45,-40,-35,-30,-25,-20,-15,-10,-5,0,5,10,15,20,25,30,35,40,45], "labels": false, "title": null, "tickSize": {"condition": {"test": "datum.value % 20 == 0", "value": -38}, "value": -17}}},
    "y": {"field": "y", "type": "quantitative", "scale": {"type": "log", "domain": [0.507, 8870000], "nice": false}, "axis": {"orient": "left", "values": [0.6,0.7,0.8,0.9,1,2,3,4,5,6,7,8,9,10,20,30,40,50,60,70,80,90,100,200,300,400,500,600,700,800,900,1000,2000,3000,4000,5000,6000,7000,8000,9000,10000,20000,30000,40000,50000,60000,70000,80000,90000,100000,200000,300000,400000,500000,600000,700000,800000,900000,1000000,2000000,3000000,4000000,5000000,6000000,7000000,8000000], "tickSize": {"condition": {"test": "abs(log(datum.value)/LN10 - round(log(datum.value)/LN10)) < 0.001", "value": -45}, "value": -23}, "labels": false, "title": null}},
    "color": {"field": "c", "type": "nominal", "scale": {"domain": ["60 - 70 %", "30 -40 %", "0 - 5 %"], "range": ["#000000", "#ff0000", "#0000ff"]}, "legend": null},
    "shape": {"field": "c", "type": "nominal", "scale": {"domain": ["60 - 70 %", "30 -40 %", "0 - 5 %"], "range": ["M0,-1L0.2245,-0.309L0.951,-0.309L0.363,0.118L0.588,0.809L0,0.382L-0.588,0.809L-0.363,0.118L-0.951,-0.309L-0.2245,-0.309Z", "cross", "circle"]}, "legend": null},
    "size": {"field": "c", "type": "nominal", "scale": {"domain": ["60 - 70 %", "30 -40 %", "0 - 5 %"], "range": [1584, 1296, 810]}, "legend": null}
   }},
  {"data": {"values": [{}]}, "mark": {"type": "text", "text": "11.5 GeV", "fontSize": 73, "font": "Liberation Sans", "color": "black", "align": "left", "baseline": "alphabetic"},
   "encoding": {"x": {"datum": -40.8, "type": "quantitative", "axis": null},
    "y": {"datum": 946000, "type": "quantitative", "axis": {"orient": "right", "values": [0.6,0.7,0.8,0.9,1,2,3,4,5,6,7,8,9,10,20,30,40,50,60,70,80,90,100,200,300,400,500,600,700,800,900,1000,2000,3000,4000,5000,6000,7000,8000,9000,10000,20000,30000,40000,50000,60000,70000,80000,90000,100000,200000,300000,400000,500000,600000,700000,800000,900000,1000000,2000000,3000000,4000000,5000000,6000000,7000000,8000000], "tickSize": {"condition": {"test": "abs(log(datum.value)/LN10 - round(log(datum.value)/LN10)) < 0.001", "value": -45}, "value": -23}, "labels": false, "title": null}}}}
 ]},
{"width": 906, "height": 787, "data": {"name": "pts"}, "transform": [{"filter": "datum.e == '14.5'"}], "resolve": {"axis": {"x": "independent", "y": "independent"}},
 "layer": [
  {"mark": {"type": "point", "filled": true, "opacity": 1, "strokeWidth": 0},
   "encoding": {
    "x": {"field": "x", "type": "quantitative", "scale": {"domain": [-50, 50], "nice": false, "zero": false}, "axis": {"orient": "bottom", "values": [-45,-40,-35,-30,-25,-20,-15,-10,-5,0,5,10,15,20,25,30,35,40,45], "labels": false, "title": null, "tickSize": {"condition": {"test": "datum.value % 20 == 0", "value": -38}, "value": -17}}},
    "y": {"field": "y", "type": "quantitative", "scale": {"type": "log", "domain": [11.17, 8910000], "nice": false}, "axis": {"orient": "left", "values": [20,30,40,50,60,70,80,90,100,200,300,400,500,600,700,800,900,1000,2000,3000,4000,5000,6000,7000,8000,9000,10000,20000,30000,40000,50000,60000,70000,80000,90000,100000,200000,300000,400000,500000,600000,700000,800000,900000,1000000,2000000,3000000,4000000,5000000,6000000,7000000,8000000], "tickSize": {"condition": {"test": "abs(log(datum.value)/LN10 - round(log(datum.value)/LN10)) < 0.001", "value": -45}, "value": -23}, "labels": false, "title": null}},
    "color": {"field": "c", "type": "nominal", "scale": {"domain": ["60 - 70 %", "30 -40 %", "0 - 5 %"], "range": ["#000000", "#ff0000", "#0000ff"]}, "legend": null},
    "shape": {"field": "c", "type": "nominal", "scale": {"domain": ["60 - 70 %", "30 -40 %", "0 - 5 %"], "range": ["M0,-1L0.2245,-0.309L0.951,-0.309L0.363,0.118L0.588,0.809L0,0.382L-0.588,0.809L-0.363,0.118L-0.951,-0.309L-0.2245,-0.309Z", "cross", "circle"]}, "legend": null},
    "size": {"field": "c", "type": "nominal", "scale": {"domain": ["60 - 70 %", "30 -40 %", "0 - 5 %"], "range": [1584, 1296, 810]}, "legend": null}
   }},
  {"data": {"values": [{}]}, "mark": {"type": "text", "text": "14.5 GeV", "fontSize": 92, "font": "Liberation Sans", "color": "black", "align": "left", "baseline": "alphabetic"},
   "encoding": {"x": {"datum": -44.6, "type": "quantitative", "axis": null},
    "y": {"datum": 966000, "type": "quantitative", "axis": {"orient": "right", "values": [20,30,40,50,60,70,80,90,100,200,300,400,500,600,700,800,900,1000,2000,3000,4000,5000,6000,7000,8000,9000,10000,20000,30000,40000,50000,60000,70000,80000,90000,100000,200000,300000,400000,500000,600000,700000,800000,900000,1000000,2000000,3000000,4000000,5000000,6000000,7000000,8000000], "tickSize": {"condition": {"test": "abs(log(datum.value)/LN10 - round(log(datum.value)/LN10)) < 0.001", "value": -45}, "value": -23}, "labels": false, "title": null}}}}
 ]},
{"width": 890, "height": 787, "data": {"name": "pts"}, "transform": [{"filter": "datum.e == '19.6'"}], "resolve": {"axis": {"x": "independent", "y": "independent"}},
 "layer": [
  {"mark": {"type": "point", "filled": true, "opacity": 1, "strokeWidth": 0},
   "encoding": {
    "x": {"field": "x", "type": "quantitative", "scale": {"domain": [-50, 48.3], "nice": false, "zero": false}, "axis": {"orient": "bottom", "values": [-45,-40,-35,-30,-25,-20,-15,-10,-5,0,5,10,15,20,25,30,35,40,45], "labels": false, "title": null, "tickSize": {"condition": {"test": "datum.value % 20 == 0", "value": -38}, "value": -17}}},
    "y": {"field": "y", "type": "quantitative", "scale": {"type": "log", "domain": [0.507, 8870000], "nice": false}, "axis": {"orient": "left", "values": [0.6,0.7,0.8,0.9,1,2,3,4,5,6,7,8,9,10,20,30,40,50,60,70,80,90,100,200,300,400,500,600,700,800,900,1000,2000,3000,4000,5000,6000,7000,8000,9000,10000,20000,30000,40000,50000,60000,70000,80000,90000,100000,200000,300000,400000,500000,600000,700000,800000,900000,1000000,2000000,3000000,4000000,5000000,6000000,7000000,8000000], "tickSize": {"condition": {"test": "abs(log(datum.value)/LN10 - round(log(datum.value)/LN10)) < 0.001", "value": -45}, "value": -23}, "labels": false, "title": null}},
    "color": {"field": "c", "type": "nominal", "scale": {"domain": ["60 - 70 %", "30 -40 %", "0 - 5 %"], "range": ["#000000", "#ff0000", "#0000ff"]}, "legend": {"orient": "none", "legendX": 42, "legendY": 202, "title": null, "labelFontSize": 73, "labelFont": "Liberation Sans", "labelColor": "black", "labelOffset": 26, "rowPadding": 2, "symbolStrokeWidth": 0, "symbolOpacity": 1, "labelLimit": 0, "padding": 0}},
    "shape": {"field": "c", "type": "nominal", "scale": {"domain": ["60 - 70 %", "30 -40 %", "0 - 5 %"], "range": ["M0,-1L0.2245,-0.309L0.951,-0.309L0.363,0.118L0.588,0.809L0,0.382L-0.588,0.809L-0.363,0.118L-0.951,-0.309L-0.2245,-0.309Z", "cross", "circle"]}},
    "size": {"field": "c", "type": "nominal", "scale": {"domain": ["60 - 70 %", "30 -40 %", "0 - 5 %"], "range": [1584, 1296, 810]}}
   }},
  {"data": {"values": [{}]}, "mark": {"type": "text", "text": "19.6 GeV", "fontSize": 70, "font": "Liberation Sans", "color": "black", "align": "left", "baseline": "alphabetic"},
   "encoding": {"x": {"datum": -40.4, "type": "quantitative", "axis": null},
    "y": {"datum": 946000, "type": "quantitative", "axis": {"orient": "right", "values": [0.6,0.7,0.8,0.9,1,2,3,4,5,6,7,8,9,10,20,30,40,50,60,70,80,90,100,200,300,400,500,600,700,800,900,1000,2000,3000,4000,5000,6000,7000,8000,9000,10000,20000,30000,40000,50000,60000,70000,80000,90000,100000,200000,300000,400000,500000,600000,700000,800000,900000,1000000,2000000,3000000,4000000,5000000,6000000,7000000,8000000], "tickSize": {"condition": {"test": "abs(log(datum.value)/LN10 - round(log(datum.value)/LN10)) < 0.001", "value": -45}, "value": -23}, "labels": false, "title": null}}}}
 ]},
{"width": 870, "height": 767, "data": {"name": "pts"}, "transform": [{"filter": "datum.e == '27'"}], "resolve": {"axis": {"x": "independent", "y": "independent"}},
 "layer": [
  {"mark": {"type": "point", "filled": true, "opacity": 1, "strokeWidth": 0},
   "encoding": {
    "x": {"field": "x", "type": "quantitative", "scale": {"domain": [-50, 50], "nice": false, "zero": false}, "axis": {"orient": "bottom", "values": [-45,-40,-35,-30,-25,-20,-15,-10,-5,0,5,10,15,20,25,30,35,40,45], "labelFontSize": 88, "labelPadding": 55, "labelExpr": "datum.value % 20 == 0 ? datum.label : ''", "title": null, "tickSize": {"condition": {"test": "datum.value % 20 == 0", "value": -38}, "value": -17}}},
    "y": {"field": "y", "type": "quantitative", "scale": {"type": "log", "domain": [1, 9120000], "nice": false}, "axis": {"orient": "left", "values": [1,2,3,4,5,6,7,8,9,10,20,30,40,50,60,70,80,90,100,200,300,400,500,600,700,800,900,1000,2000,3000,4000,5000,6000,7000,8000,9000,10000,20000,30000,40000,50000,60000,70000,80000,90000,100000,200000,300000,400000,500000,600000,700000,800000,900000,1000000,2000000,3000000,4000000,5000000,6000000,7000000,8000000,9000000], "tickSize": {"condition": {"test": "abs(log(datum.value)/LN10 - round(log(datum.value)/LN10)) < 0.001", "value": -43}, "value": -22}, "labelFontSize": {"condition": {"test": "abs(log(datum.value)/LN10 - round(log(datum.value)/LN10)) < 0.001", "value": 94}, "value": 0}, "labelPadding": 60, "labelExpr": "datum.value == 1 ? '1' : datum.value == 10 ? '10' : datum.value == 100 ? '10²' : datum.value == 1000 ? '10³' : datum.value == 10000 ? '10⁴' : datum.value == 100000 ? '10⁵' : datum.value == 1000000 ? '10⁶' : ''", "title": null}},
    "color": {"field": "c", "type": "nominal", "scale": {"domain": ["60 - 70 %", "30 -40 %", "0 - 5 %"], "range": ["#000000", "#ff0000", "#0000ff"]}, "legend": null},
    "shape": {"field": "c", "type": "nominal", "scale": {"domain": ["60 - 70 %", "30 -40 %", "0 - 5 %"], "range": ["M0,-1L0.2245,-0.309L0.951,-0.309L0.363,0.118L0.588,0.809L0,0.382L-0.588,0.809L-0.363,0.118L-0.951,-0.309L-0.2245,-0.309Z", "cross", "circle"]}, "legend": null},
    "size": {"field": "c", "type": "nominal", "scale": {"domain": ["60 - 70 %", "30 -40 %", "0 - 5 %"], "range": [1584, 1296, 810]}, "legend": null}
   }},
  {"data": {"values": [{}]}, "mark": {"type": "text", "text": "27 GeV", "fontSize": 78, "font": "Liberation Sans", "color": "black", "align": "left", "baseline": "alphabetic"},
   "encoding": {"x": {"datum": -39.0, "type": "quantitative", "axis": null},
    "y": {"datum": 1040000, "type": "quantitative", "axis": {"orient": "right", "values": [1,2,3,4,5,6,7,8,9,10,20,30,40,50,60,70,80,90,100,200,300,400,500,600,700,800,900,1000,2000,3000,4000,5000,6000,7000,8000,9000,10000,20000,30000,40000,50000,60000,70000,80000,90000,100000,200000,300000,400000,500000,600000,700000,800000,900000,1000000,2000000,3000000,4000000,5000000,6000000,7000000,8000000,9000000], "tickSize": {"condition": {"test": "abs(log(datum.value)/LN10 - round(log(datum.value)/LN10)) < 0.001", "value": -43}, "value": -22}, "labels": false, "title": null}}}}
 ]},
{"width": 906, "height": 767, "data": {"name": "pts"}, "transform": [{"filter": "datum.e == '39'"}], "resolve": {"axis": {"x": "independent", "y": "independent"}},
 "layer": [
  {"mark": {"type": "point", "filled": true, "opacity": 1, "strokeWidth": 0},
   "encoding": {
    "x": {"field": "x", "type": "quantitative", "scale": {"domain": [-50, 50], "nice": false, "zero": false}, "axis": {"orient": "bottom", "values": [-45,-40,-35,-30,-25,-20,-15,-10,-5,0,5,10,15,20,25,30,35,40,45], "labelFontSize": 88, "labelPadding": 55, "labelExpr": "datum.value % 20 == 0 ? datum.label : ''", "title": null, "tickSize": {"condition": {"test": "datum.value % 20 == 0", "value": -38}, "value": -17}}},
    "y": {"field": "y", "type": "quantitative", "scale": {"type": "log", "domain": [3.49, 9120000], "nice": false}, "axis": {"orient": "left", "values": [4,5,6,7,8,9,10,20,30,40,50,60,70,80,90,100,200,300,400,500,600,700,800,900,1000,2000,3000,4000,5000,6000,7000,8000,9000,10000,20000,30000,40000,50000,60000,70000,80000,90000,100000,200000,300000,400000,500000,600000,700000,800000,900000,1000000,2000000,3000000,4000000,5000000,6000000,7000000,8000000,9000000], "tickSize": {"condition": {"test": "abs(log(datum.value)/LN10 - round(log(datum.value)/LN10)) < 0.001", "value": -43}, "value": -22}, "labels": false, "title": null}},
    "color": {"field": "c", "type": "nominal", "scale": {"domain": ["60 - 70 %", "30 -40 %", "0 - 5 %"], "range": ["#000000", "#ff0000", "#0000ff"]}, "legend": null},
    "shape": {"field": "c", "type": "nominal", "scale": {"domain": ["60 - 70 %", "30 -40 %", "0 - 5 %"], "range": ["M0,-1L0.2245,-0.309L0.951,-0.309L0.363,0.118L0.588,0.809L0,0.382L-0.588,0.809L-0.363,0.118L-0.951,-0.309L-0.2245,-0.309Z", "cross", "circle"]}, "legend": null},
    "size": {"field": "c", "type": "nominal", "scale": {"domain": ["60 - 70 %", "30 -40 %", "0 - 5 %"], "range": [1584, 1296, 810]}, "legend": null}
   }},
  {"data": {"values": [{}]}, "mark": {"type": "text", "text": "39 GeV", "fontSize": 76, "font": "Liberation Sans", "color": "black", "align": "left", "baseline": "alphabetic"},
   "encoding": {"x": {"datum": -37.6, "type": "quantitative", "axis": null},
    "y": {"datum": 1040000, "type": "quantitative", "axis": {"orient": "right", "values": [4,5,6,7,8,9,10,20,30,40,50,60,70,80,90,100,200,300,400,500,600,700,800,900,1000,2000,3000,4000,5000,6000,7000,8000,9000,10000,20000,30000,40000,50000,60000,70000,80000,90000,100000,200000,300000,400000,500000,600000,700000,800000,900000,1000000,2000000,3000000,4000000,5000000,6000000,7000000,8000000,9000000], "tickSize": {"condition": {"test": "abs(log(datum.value)/LN10 - round(log(datum.value)/LN10)) < 0.001", "value": -43}, "value": -22}, "labels": false, "title": null}}}}
 ]},
{"width": 906, "height": 767, "data": {"name": "pts"}, "transform": [{"filter": "datum.e == '62.4'"}], "resolve": {"axis": {"x": "independent", "y": "independent"}},
 "layer": [
  {"mark": {"type": "point", "filled": true, "opacity": 1, "strokeWidth": 0},
   "encoding": {
    "x": {"field": "x", "type": "quantitative", "scale": {"domain": [-50, 50], "nice": false, "zero": false}, "axis": {"orient": "bottom", "values": [-45,-40,-35,-30,-25,-20,-15,-10,-5,0,5,10,15,20,25,30,35,40,45], "labelFontSize": 88, "labelPadding": 55, "labelExpr": "datum.value % 20 == 0 ? datum.label : ''", "title": null, "tickSize": {"condition": {"test": "datum.value % 20 == 0", "value": -38}, "value": -17}}},
    "y": {"field": "y", "type": "quantitative", "scale": {"type": "log", "domain": [0.514, 9370000], "nice": false}, "axis": {"orient": "left", "values": [0.6,0.7,0.8,0.9,1,2,3,4,5,6,7,8,9,10,20,30,40,50,60,70,80,90,100,200,300,400,500,600,700,800,900,1000,2000,3000,4000,5000,6000,7000,8000,9000,10000,20000,30000,40000,50000,60000,70000,80000,90000,100000,200000,300000,400000,500000,600000,700000,800000,900000,1000000,2000000,3000000,4000000,5000000,6000000,7000000,8000000,9000000], "tickSize": {"condition": {"test": "abs(log(datum.value)/LN10 - round(log(datum.value)/LN10)) < 0.001", "value": -43}, "value": -22}, "labels": false, "title": null}},
    "color": {"field": "c", "type": "nominal", "scale": {"domain": ["60 - 70 %", "30 -40 %", "0 - 5 %"], "range": ["#000000", "#ff0000", "#0000ff"]}, "legend": null},
    "shape": {"field": "c", "type": "nominal", "scale": {"domain": ["60 - 70 %", "30 -40 %", "0 - 5 %"], "range": ["M0,-1L0.2245,-0.309L0.951,-0.309L0.363,0.118L0.588,0.809L0,0.382L-0.588,0.809L-0.363,0.118L-0.951,-0.309L-0.2245,-0.309Z", "cross", "circle"]}, "legend": null},
    "size": {"field": "c", "type": "nominal", "scale": {"domain": ["60 - 70 %", "30 -40 %", "0 - 5 %"], "range": [1584, 1296, 810]}, "legend": null}
   }},
  {"data": {"values": [{}]}, "mark": {"type": "text", "text": "62.4 GeV", "fontSize": 67, "font": "Liberation Sans", "color": "black", "align": "left", "baseline": "alphabetic"},
   "encoding": {"x": {"datum": -38.6, "type": "quantitative", "axis": null},
    "y": {"datum": 1040000, "type": "quantitative", "axis": {"orient": "right", "values": [0.6,0.7,0.8,0.9,1,2,3,4,5,6,7,8,9,10,20,30,40,50,60,70,80,90,100,200,300,400,500,600,700,800,900,1000,2000,3000,4000,5000,6000,7000,8000,9000,10000,20000,30000,40000,50000,60000,70000,80000,90000,100000,200000,300000,400000,500000,600000,700000,800000,900000,1000000,2000000,3000000,4000000,5000000,6000000,7000000,8000000,9000000], "tickSize": {"condition": {"test": "abs(log(datum.value)/LN10 - round(log(datum.value)/LN10)) < 0.001", "value": -43}, "value": -22}, "labels": false, "title": null}}}}
 ]},
{"width": 890, "height": 767, "data": {"name": "pts"}, "transform": [{"filter": "datum.e == '200'"}], "resolve": {"axis": {"x": "independent", "y": "independent"}},
 "layer": [
  {"mark": {"type": "point", "filled": true, "opacity": 1, "strokeWidth": 0},
   "encoding": {
    "x": {"field": "x", "type": "quantitative", "scale": {"domain": [-50, 48.3], "nice": false, "zero": false}, "axis": {"orient": "bottom", "values": [-45,-40,-35,-30,-25,-20,-15,-10,-5,0,5,10,15,20,25,30,35,40,45], "labelFontSize": 88, "labelPadding": 55, "labelExpr": "datum.value % 20 == 0 ? datum.label : ''", "tickSize": {"condition": {"test": "datum.value % 20 == 0", "value": -38}, "value": -17}, "title": "Net-kaon (k⁺-k⁻)", "titleFontSize": 82, "titleX": 167, "titleY": 199, "titleAlign": "left", "titleBaseline": "alphabetic"}},
    "y": {"field": "y", "type": "quantitative", "scale": {"type": "log", "domain": [4.51, 9120000], "nice": false}, "axis": {"orient": "left", "values": [5,6,7,8,9,10,20,30,40,50,60,70,80,90,100,200,300,400,500,600,700,800,900,1000,2000,3000,4000,5000,6000,7000,8000,9000,10000,20000,30000,40000,50000,60000,70000,80000,90000,100000,200000,300000,400000,500000,600000,700000,800000,900000,1000000,2000000,3000000,4000000,5000000,6000000,7000000,8000000,9000000], "tickSize": {"condition": {"test": "abs(log(datum.value)/LN10 - round(log(datum.value)/LN10)) < 0.001", "value": -43}, "value": -22}, "labels": false, "title": null}},
    "color": {"field": "c", "type": "nominal", "scale": {"domain": ["60 - 70 %", "30 -40 %", "0 - 5 %"], "range": ["#000000", "#ff0000", "#0000ff"]}, "legend": null},
    "shape": {"field": "c", "type": "nominal", "scale": {"domain": ["60 - 70 %", "30 -40 %", "0 - 5 %"], "range": ["M0,-1L0.2245,-0.309L0.951,-0.309L0.363,0.118L0.588,0.809L0,0.382L-0.588,0.809L-0.363,0.118L-0.951,-0.309L-0.2245,-0.309Z", "cross", "circle"]}, "legend": null},
    "size": {"field": "c", "type": "nominal", "scale": {"domain": ["60 - 70 %", "30 -40 %", "0 - 5 %"], "range": [1584, 1296, 810]}, "legend": null}
   }},
  {"data": {"values": [{}]}, "mark": {"type": "text", "text": "200 GeV", "fontSize": 80, "font": "Liberation Sans", "color": "black", "align": "left", "baseline": "alphabetic"},
   "encoding": {"x": {"datum": -40.7, "type": "quantitative", "axis": null},
    "y": {"datum": 1070000, "type": "quantitative", "axis": {"orient": "right", "values": [5,6,7,8,9,10,20,30,40,50,60,70,80,90,100,200,300,400,500,600,700,800,900,1000,2000,3000,4000,5000,6000,7000,8000,9000,10000,20000,30000,40000,50000,60000,70000,80000,90000,100000,200000,300000,400000,500000,600000,700000,800000,900000,1000000,2000000,3000000,4000000,5000000,6000000,7000000,8000000,9000000], "tickSize": {"condition": {"test": "abs(log(datum.value)/LN10 - round(log(datum.value)/LN10)) < 0.001", "value": -43}, "value": -22}, "labels": false, "title": null}}}}
 ]}
]
}
